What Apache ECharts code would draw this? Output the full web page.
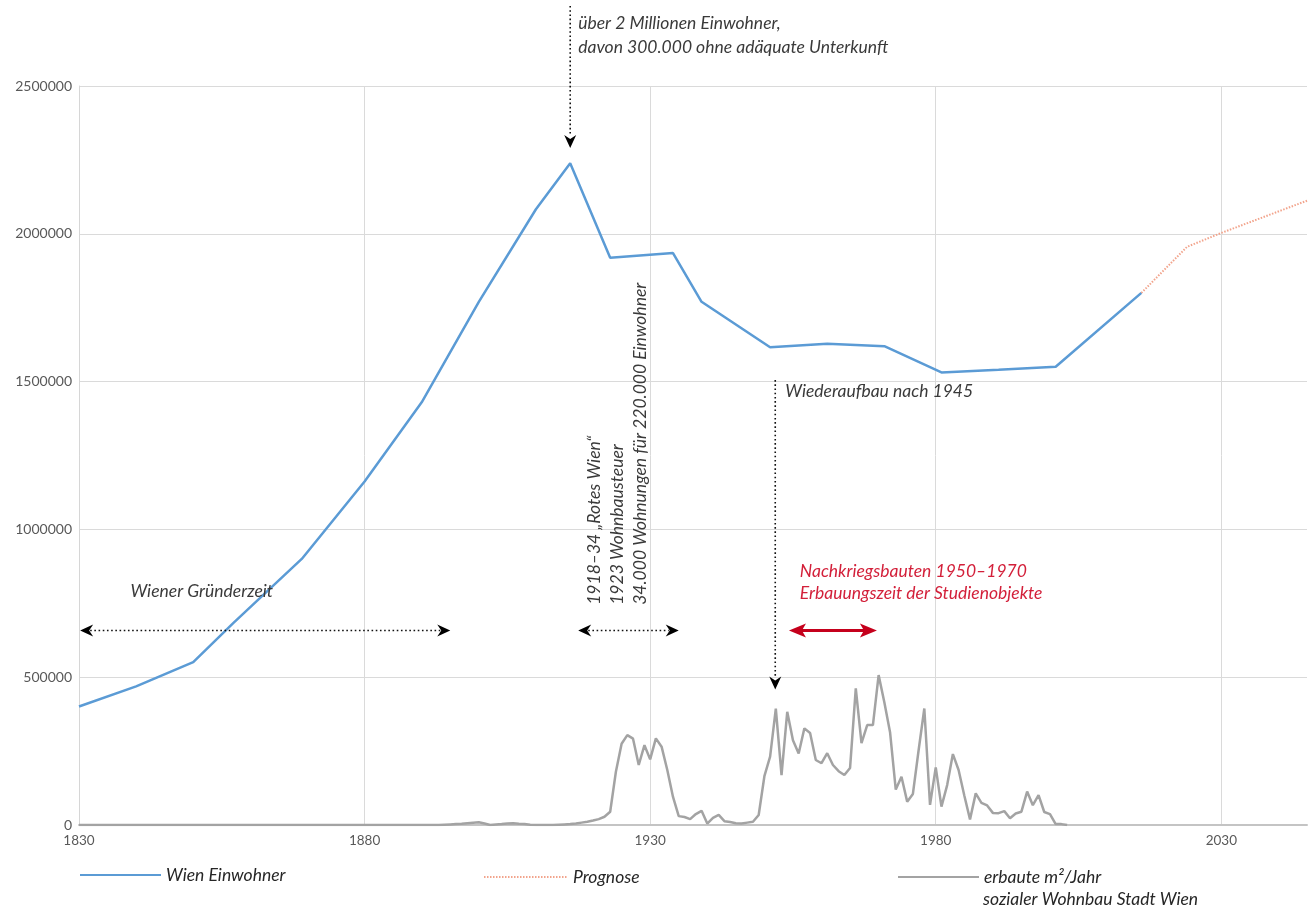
<!DOCTYPE html>
<html><head><meta charset="utf-8">
<script src="https://cdn.jsdelivr.net/npm/echarts@6/dist/echarts.min.js"></script>
<style>html,body{margin:0;padding:0;background:#fff}#c{width:1308px;height:906px}</style>
</head><body><div id="c"></div>
<script>
// ---- data ----
const popYears  = [1830,1840,1850,1857,1869,1880,1890,1900,1910,1916,1923,1934,1939,1951,1961,1971,1981,1991,2001,2016];
const popValues = [401000,469000,551000,683000,900000,1162000,1430000,1770000,2083000,2239000,1919000,1935000,1770000,1616000,1628000,1620000,1531000,1540000,1550000,1800000];
const progYears  = [2016,2024,2030,2045];
const progValues = [1800000,1956000,2003000,2112000];
const buildYears = [1830,1890,1891,1892,1893,1894,1895,1896,1897,1898,1899,1900,1901,1902,1903,1904,1905,1906,1907,1908,1909,1910,1911,1912,1913,1914,1915,1916,1917,1918,1919,1920,1921,1922,1923,1924,1925,1926,1927,1928,1929,1930,1931,1932,1933,1934,1935,1936,1937,1938,1939,1940,1941,1942,1943,1944,1945,1946,1947,1948,1949,1950,1951,1952,1953,1954,1955,1956,1957,1958,1959,1960,1961,1962,1963,1964,1965,1966,1967,1968,1969,1970,1971,1972,1973,1974,1975,1976,1977,1978,1979,1980,1981,1982,1983,1984,1985,1986,1987,1988,1989,1990,1991,1992,1993,1994,1995,1996,1997,1998,1999,2000,2001,2002,2003];
const buildValues = [0,0,0,0,0,1000,2000,3000,4000,6000,8000,9000,5000,0,2000,3000,5000,6000,4000,3000,1000,0,0,0,0,1000,2000,3000,5000,8000,11000,15000,20000,28000,45000,180000,275000,304000,292000,203000,270000,222000,293000,265000,186000,95000,30000,27000,20000,37000,48000,5000,24000,34000,13000,10000,6000,5000,8000,11000,34000,165000,231000,394000,169000,383000,287000,242000,327000,311000,220000,209000,243000,203000,182000,169000,193000,462000,277000,338000,338000,507000,415000,314000,120000,163000,79000,105000,253000,394000,68000,195000,62000,135000,240000,186000,100000,19000,107000,75000,66000,41000,40000,47000,23000,39000,45000,113000,67000,101000,44000,37000,3000,3000,0];
const xMin = 1830, xMax = 2045, xStep = 50;
const yMin = 0, yMax = 2500000, yStep = 500000;
const seriesNames = ['Wien Einwohner','Prognose','erbaute m²/Jahr'];
const legendSecondLine = 'sozialer Wohnbau Stadt Wien';

const zip = (a,b) => a.map((v,i)=>[v,b[i]]);
const FONT = 'Lato, "Open Sans", sans-serif';
const FS = 17.5;
const chart = echarts.init(document.getElementById('c'), null, {renderer:'canvas'});

const legendText = {fontFamily:FONT, fontStyle:'italic', fontSize:FS, color:'#262626'};
const legendBase = {padding:0, itemHeight:14, textStyle:legendText, selectedMode:false, itemStyle:{opacity:0}};
const option = {
  animation:false,
  backgroundColor:'#ffffff',
  grid:{left:79, right:1, top:86, bottom:81, containLabel:false},
  xAxis:{type:'value', min:xMin, max:xMax, interval:xStep,
    axisLine:{show:true, onZero:false, lineStyle:{color:'#c4c4c4', width:2}},
    axisTick:{show:false},
    axisLabel:{color:'#595959', fontFamily:FONT, fontSize:13.5, margin:9, showMaxLabel:false, formatter:v=>String(v)},
    splitLine:{show:true, showMaxLine:false, lineStyle:{color:'#dadada', width:1}}},
  yAxis:{type:'value', min:yMin, max:yMax, interval:yStep,
    axisLine:{show:true, lineStyle:{color:'#d6d6d6', width:1}},
    axisTick:{show:false},
    axisLabel:{color:'#595959', fontFamily:FONT, fontSize:14, margin:7, formatter:v=>String(v)},
    splitLine:{show:true, lineStyle:{color:'#dadada', width:1}}},
  legend:[
    Object.assign({data:[seriesNames[0]], left:79, top:866, itemWidth:81}, legendBase),
    Object.assign({data:[seriesNames[1]], left:483, top:868, itemWidth:84}, legendBase),
    Object.assign({data:[seriesNames[2]], left:897, top:868, itemWidth:81}, legendBase)
  ],
  series:[
    {name:seriesNames[2], type:'line', data:zip(buildYears,buildValues), symbol:'none', z:2,
      lineStyle:{color:'#a3a3a3', width:2.5}, itemStyle:{color:'#a3a3a3'}},
    {name:seriesNames[0], type:'line', data:zip(popYears,popValues), symbol:'none', z:4,
      lineStyle:{color:'#5b9bd5', width:2.5}, itemStyle:{color:'#5b9bd5'}},
    {name:seriesNames[1], type:'line', data:zip(progYears,progValues), symbol:'none', z:5,
      lineStyle:{color:'#f2a48c', width:2, type:[1.5,1.5]}, itemStyle:{color:'#f2a48c'}}
  ]
};
chart.setOption(option);

// ---- annotations (anchored to data coordinates) ----
const X = yr => chart.convertToPixel({gridIndex:0},[yr,0])[0];
const Y = v => chart.convertToPixel({gridIndex:0},[xMin,v])[1];
const INK = '#3a3a3a', RED = '#d3203a', RED_ARROW = '#c5001c';
const dotted = {stroke:'#111', lineWidth:1.6, lineDash:[1.6,2.6]};
function head(x,y,dir,len,half,notch,color){
  let pts;
  if(dir==='left')  pts=[[x,y],[x+len,y-half],[x+len-notch,y],[x+len,y+half]];
  if(dir==='right') pts=[[x,y],[x-len,y-half],[x-len+notch,y],[x-len,y+half]];
  if(dir==='down')  pts=[[x,y],[x-half,y-len],[x,y-len+notch],[x+half,y-len]];
  return {type:'polygon', shape:{points:pts}, style:{fill:color}, z:100};
}
function txt(x,y,s,color,extra){
  return Object.assign({type:'text', x:x, y:y, z:100,
    style:{text:s, fill:color, font:'italic '+FS+'px '+FONT, textAlign:'left', textVerticalAlign:'middle'}}, extra||{});
}
function hline(x1,x2,y,style){return {type:'line', shape:{x1:x1,y1:y,x2:x2,y2:y}, style:style, z:100};}
function vline(x,y1,y2,style){return {type:'line', shape:{x1:x,y1:y1,x2:x,y2:y2}, style:style, z:100};}

const g = [];
// Peak 1916
const xPeak = X(1916), yTip = Y(2290000);
g.push(vline(xPeak, 6, yTip-12, dotted), head(xPeak, yTip, 'down', 13, 6, 4, '#000'));
g.push(txt(xPeak+8, 23, 'über 2 Millionen Einwohner,', INK), txt(xPeak+8, 47, 'davon 300.000 ohne adäquate Unterkunft', INK));
// Gründerzeit
const yArr = Y(658000);
const gx1 = X(1830.2), gx2 = X(1895);
g.push(hline(gx1+10, gx2-10, yArr, dotted), head(gx1, yArr, 'left', 13, 6, 4, '#000'), head(gx2, yArr, 'right', 13, 6, 4, '#000'));
g.push(txt(X(1839), Y(790000), 'Wiener Gründerzeit', INK));
// Rotes Wien
const rx1 = X(1917.4), rx2 = X(1935);
g.push(hline(rx1+10, rx2-10, yArr, dotted), head(rx1, yArr, 'left', 13, 6, 4, '#000'), head(rx2, yArr, 'right', 13, 6, 4, '#000'));
const rot = {rotation:Math.PI/2};
const yBase = Y(745000);
g.push(txt(X(1920.3), yBase, '1918–34 „Rotes Wien“', INK, rot));
g.push(txt(X(1924.2), yBase, '1923 Wohnbausteuer', INK, rot));
g.push(txt(X(1928.3), yBase, '34.000 Wohnungen für 220.000 Einwohner', INK, rot));
// Wiederaufbau
const wx = X(1951.9), wTip = Y(458000);
g.push(vline(wx, Y(1505000), wTip-12, dotted), head(wx, wTip, 'down', 13, 6, 4, '#000'));
g.push(txt(wx+10, Y(1468000), 'Wiederaufbau nach 1945', INK));
// Nachkriegsbauten
const nx1 = X(1954.3), nx2 = X(1969.7);
g.push(hline(nx1+12, nx2-12, yArr, {stroke:RED_ARROW, lineWidth:3}), head(nx1, yArr, 'left', 17, 7, 4, RED_ARROW), head(nx2, yArr, 'right', 17, 7, 4, RED_ARROW));
g.push(txt(X(1956.2), Y(858000), 'Nachkriegsbauten 1950–1970', RED), txt(X(1956.2), Y(784000), 'Erbauungszeit der Studienobjekte', RED));
// legend second line
g.push({type:'text', x:897+81+5, y:899, z:100, style:{text:legendSecondLine, fill:'#262626', font:'italic '+FS+'px '+FONT, textAlign:'left', textVerticalAlign:'middle'}});

chart.setOption({graphic:g});
</script></body></html>
